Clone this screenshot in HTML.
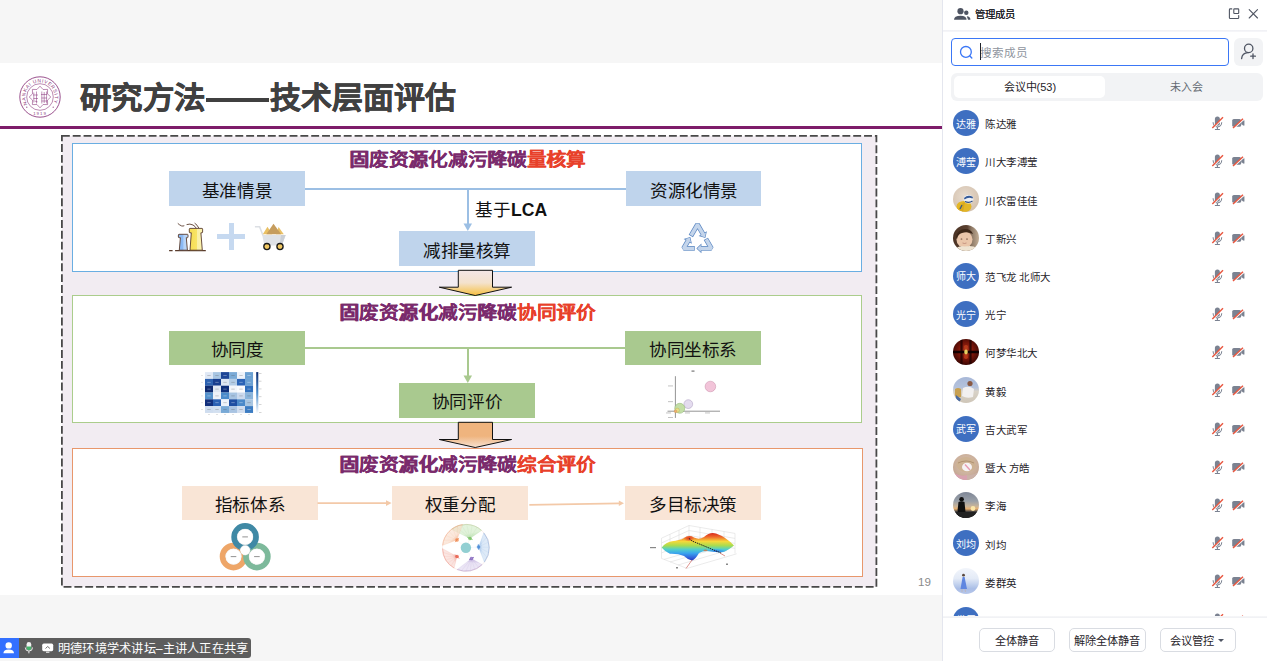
<!DOCTYPE html>
<html lang="zh-CN">
<head>
<meta charset="utf-8">
<style>
*{margin:0;padding:0;box-sizing:border-box}
html,body{width:1267px;height:661px;overflow:hidden;background:#f6f6f6;font-family:"Liberation Sans",sans-serif;position:relative}
.a{position:absolute}
.t{position:absolute;white-space:nowrap;line-height:1}
#slide{left:0;top:63px;width:942px;height:532px;background:#fff}
.title{top:82.7px;font-size:32px;font-weight:bold;color:#404040;-webkit-text-stroke:0.6px #404040;transform:scale(0.98,0.93);transform-origin:0 0}
.pline{left:0;top:126px;width:942px;height:3px;background:#7e1c6a}
.dash{left:61px;top:135px;width:815.5px;height:452px;border:1.6px dashed #454545;background:#f3edf3}
.sec{left:72px;width:790.2px;background:#fff}
.s1{top:143.2px;height:128.6px;border:1.5px solid #6aaee2}
.s2{top:295.2px;height:128px;border:1.4px solid #abcd8c}
.s3{top:448.1px;height:128.5px;width:790.8px;border:1.4px solid #e8976c}
.hd{font-size:20px;font-weight:bold;color:#7a2a6c;left:0;width:942px;transform:scale(0.986,0.9);transform-origin:50% 0;text-shadow:0.4px 0 0 #7a2a6c}
.hd b{text-shadow:0.4px 0 0 #e8402a}

.hd b{color:#e8402a}
.lb{position:absolute;font-size:18px;color:#111;display:flex;align-items:center;justify-content:center;white-space:nowrap}
.lb span{display:inline-block;transform:translateY(0.7px) scale(0.978,0.92)}
.bl{background:#bfd4ec}
.gr{background:#a9c98f}
.or{background:#f9e5d6}
.ln{position:absolute}
/* panel */
#panel{left:942px;top:0;width:325px;height:661px;background:#fff;border-left:1.5px solid #e4e6ee}
.ptxt{color:#1f2329}
.row{position:absolute;left:953px;height:26px}
.av{position:absolute;width:26px;height:26px;border-radius:50%;background:#3e6fc1;color:#fff;font-size:10px;display:flex;align-items:center;justify-content:center;overflow:hidden}
.nm{position:absolute;font-size:11px;color:#1f2329;white-space:nowrap;line-height:1;transform:scale(0.955,0.93);transform-origin:0 50%}
.btn{position:absolute;top:627.5px;height:24px;border:1px solid #d9dce2;border-radius:5px;background:#fff;font-size:11.2px;color:#1f2329;display:flex;align-items:center;justify-content:center}
</style>
</head>
<body>
<div id="slide" class="a"></div>


<div class="t title" style="left:79.5px">研究方法</div>
<div class="a" style="left:206px;top:97.9px;width:63px;height:3.9px;background:#404040"></div>
<div class="t title" style="left:269.8px;transform:scale(0.966,0.93)">技术层面评估</div>
<div class="a pline"></div>

<svg class="a" style="left:0;top:0" width="942" height="600"><rect x="61.9" y="135.9" width="814.5" height="451" fill="#f2ecf2" stroke="#484848" stroke-width="1.8" stroke-dasharray="7.9 2.94"/></svg>
<div class="a sec s1"></div>
<div class="a sec s2"></div>
<div class="a sec s3"></div>

<div class="t hd" style="top:151px;text-align:center;left:0;width:935px">固废资源化减污降碳<b>量核算</b></div>
<div class="t hd" style="top:303.8px;text-align:center;left:0;width:935px">固废资源化减污降碳<b>协同评价</b></div>
<div class="t hd" style="top:456.4px;text-align:center;left:0;width:935px">固废资源化减污降碳<b>综合评价</b></div>

<!-- section 1 -->
<div class="lb bl" style="left:169.3px;top:171.4px;width:136px;height:34.5px"><span>基准情景</span></div>
<div class="lb bl" style="left:626px;top:171.4px;width:135px;height:34.5px"><span>资源化情景</span></div>
<div class="lb bl" style="left:399px;top:231.1px;width:136px;height:35px"><span>减排量核算</span></div>
<div class="ln" style="left:305px;top:188.3px;width:321px;height:2px;background:#9cbfe4"></div>
<div class="ln" style="left:466.8px;top:189px;width:2px;height:36px;background:#9cbfe4"></div>
<svg class="a" style="left:463px;top:223px" width="10" height="9"><path d="M0.5 0.5 L9 0.5 L4.8 8 Z" fill="#9cbfe4"/></svg>
<div class="t" style="left:475px;top:202.1px;font-size:17.6px;color:#111">基于<b style="font-size:17.6px">LCA</b></div>

<!-- section 2 -->
<div class="lb gr" style="left:169.3px;top:330.7px;width:136px;height:34.8px"><span>协同度</span></div>
<div class="lb gr" style="left:624.5px;top:330.7px;width:136px;height:34.8px"><span>协同坐标系</span></div>
<div class="lb gr" style="left:399px;top:383px;width:136px;height:34.8px"><span>协同评价</span></div>
<div class="ln" style="left:305px;top:347px;width:320px;height:2px;background:#a9c98f"></div>
<div class="ln" style="left:466.8px;top:348px;width:2px;height:28px;background:#a9c98f"></div>
<svg class="a" style="left:463px;top:375px" width="10" height="9"><path d="M0.5 0.5 L9 0.5 L4.8 8 Z" fill="#a9c98f"/></svg>

<!-- section 3 -->
<div class="lb or" style="left:182px;top:485.7px;width:136px;height:34.5px"><span>指标体系</span></div>
<div class="lb or" style="left:392.2px;top:485.7px;width:136px;height:34.5px"><span>权重分配</span></div>
<div class="lb or" style="left:624.5px;top:485.7px;width:136px;height:34.5px"><span>多目标决策</span></div>

<svg class="a" style="left:300px;top:490px" width="340" height="25" viewBox="300 490 340 25">
 <path d="M317.5 503.1 H387" stroke="#f3c9a8" stroke-width="1.8"/>
 <path d="M386 500.2 L391.6 503.1 L386 506 Z" fill="#f3c9a8"/>
 <path d="M529.3 504.8 L619.5 503.3" stroke="#f3c9a8" stroke-width="1.8"/>
 <path d="M618.8 500.6 L624 503.2 L618.8 505.9 Z" fill="#f3c9a8"/>
</svg>
<!-- factory -->
<svg class="a" style="left:166px;top:220px" width="44" height="34" viewBox="166 220 44 34">
 <defs>
  <linearGradient id="gbl" x1="0" x2="1"><stop offset="0" stop-color="#86b6f2"/><stop offset="0.5" stop-color="#8cbaf4"/><stop offset="0.55" stop-color="#b6d4f8"/><stop offset="1" stop-color="#bcd8f8"/></linearGradient>
  <linearGradient id="gye" x1="0" x2="1"><stop offset="0" stop-color="#f6dc50"/><stop offset="0.55" stop-color="#f8e466"/><stop offset="0.6" stop-color="#faf0a6"/><stop offset="1" stop-color="#fbf3b0"/></linearGradient>
 </defs>
 <path d="M169.1 250.7 H172.6 M175.1 250.7 H205.8" stroke="#5a3c2c" stroke-width="1.2"/>
 <path d="M179 234.3 Q178.4 234.3 178.4 235 V237 Q178.4 237.7 179.2 237.7 H180.4 L179.3 250.2 H187.4 L186.3 237.7 H187.4 Q188 237.7 188 237 V235 Q188 234.3 187.4 234.3 Z" fill="url(#gbl)" stroke="#5a3c2c" stroke-width="0.9"/>
 <path d="M190 228.4 Q189.3 228.4 189.3 229.1 V232 Q189.3 232.8 190 232.8 H191.3 L190 250.2 H202.3 L200.9 232.8 H202 Q202.6 232.8 202.6 232 V229.1 Q202.6 228.4 202 228.4 Z" fill="url(#gye)" stroke="#5a3c2c" stroke-width="0.9"/>
 <path d="M177.8 223.4 Q179.5 225 181.5 225.9 Q183 226.3 184.3 225.7" fill="none" stroke="#5a3c2c" stroke-width="0.9"/>
 <path d="M186.6 224.6 Q190 223.4 193 225 Q195.3 226.3 196.2 228.2" fill="none" stroke="#5a3c2c" stroke-width="0.9"/>
 <path d="M194.6 223.1 Q197.3 224.8 198.8 228.1" fill="none" stroke="#5a3c2c" stroke-width="0.9"/>
</svg>
<!-- plus -->
<div class="a" style="left:217px;top:234.2px;width:28px;height:5px;background:#c6d9f0"></div>
<div class="a" style="left:228.5px;top:223px;width:5px;height:27px;background:#c6d9f0"></div>
<!-- cart -->
<svg class="a" style="left:252px;top:220px" width="38" height="34" viewBox="252 220 38 34">
 <path d="M254.9 226.8 H259.6 L263 235.5" fill="none" stroke="#dcdfe4" stroke-width="1.6"/>
 <path d="M262.8 234.2 L267.5 226.8 L272.2 234.2 Z" fill="#e9c064"/>
 <path d="M276 234.2 L278.6 227 L283.8 234.2 Z" fill="#e9c064"/>
 <path d="M266.3 234.2 L273.5 223.8 L281.2 234.2 Z" fill="#c69d5e"/>
 <path d="M262.2 235 H285.7 L281.8 245.5 H264.4 Z" fill="#dfe2e7"/>
 <path d="M281 235 H285.7 L281.8 245.5 H279.5 Z" fill="#cbcfd5"/>
 <circle cx="266.9" cy="246.6" r="3.1" fill="#f1c862" stroke="#1a1a1a" stroke-width="1.3"/>
 <circle cx="280" cy="246.6" r="3.1" fill="#f1c862" stroke="#1a1a1a" stroke-width="1.3"/>
</svg>
<!-- recycle -->
<svg class="a" style="left:677px;top:217px" width="42" height="40" viewBox="677 217 42 40">
<path d="M690.83 236.02 L697.50 224.60 L703.21 234.38" fill="none" stroke="#5b87c2" stroke-width="4.9" stroke-linejoin="bevel"/>
<polygon points="704.88,237.23 700.12,235.83 706.00,232.41" fill="#5b87c2" stroke="#5b87c2" stroke-width="1.2" stroke-linejoin="miter"/>
<path d="M705.84 238.88 L711.40 248.40 L700.54 248.40" fill="none" stroke="#5b87c2" stroke-width="4.9" stroke-linejoin="bevel"/>
<polygon points="697.24,248.40 700.84,245.00 700.84,251.80" fill="#5b87c2" stroke="#5b87c2" stroke-width="1.2" stroke-linejoin="miter"/>
<path d="M694.72 248.40 L683.60 248.40 L688.20 240.52" fill="none" stroke="#5b87c2" stroke-width="4.9" stroke-linejoin="bevel"/>
<polygon points="689.86,237.68 690.98,242.50 685.11,239.07" fill="#5b87c2" stroke="#5b87c2" stroke-width="1.2" stroke-linejoin="miter"/>
<path d="M691.16 235.46 L697.50 224.60 L703.36 234.64" fill="none" stroke="#c4d5eb" stroke-width="3.5" stroke-linejoin="bevel"/>
<polygon points="704.88,237.23 700.12,235.83 706.00,232.41" fill="#c4d5eb"/>
<path d="M706.17 239.44 L711.40 248.40 L700.24 248.40" fill="none" stroke="#c4d5eb" stroke-width="3.5" stroke-linejoin="bevel"/>
<polygon points="697.24,248.40 700.84,245.00 700.84,251.80" fill="#c4d5eb"/>
<path d="M694.07 248.40 L683.60 248.40 L688.35 240.27" fill="none" stroke="#c4d5eb" stroke-width="3.5" stroke-linejoin="bevel"/>
<polygon points="689.86,237.68 690.98,242.50 685.11,239.07" fill="#c4d5eb"/>
</svg>
<svg class="a" style="left:198px;top:368px" width="70" height="50" viewBox="198 368 70 50">
<defs><linearGradient id="gcb" x1="0" y1="0" x2="0" y2="1"><stop offset="0" stop-color="#0b2a6e"/><stop offset="0.5" stop-color="#4a8cca"/><stop offset="1" stop-color="#f6f9fd"/></linearGradient></defs>
<rect x="205.0" y="372.10" width="8.05" height="6.85" fill="#dfe8f5"/>
<rect x="207.3" y="375.10" width="3.4" height="0.8" fill="#555" opacity="0.35"/>
<rect x="213.0" y="372.10" width="8.05" height="6.85" fill="#a8c6e3"/>
<rect x="215.3" y="375.10" width="3.4" height="0.8" fill="#555" opacity="0.35"/>
<rect x="221.0" y="372.10" width="8.05" height="6.85" fill="#1c4596"/>
<rect x="223.3" y="375.10" width="3.4" height="0.8" fill="#fff" opacity="0.4"/>
<rect x="229.0" y="372.10" width="8.05" height="6.85" fill="#7aaad6"/>
<rect x="231.3" y="375.10" width="3.4" height="0.8" fill="#555" opacity="0.35"/>
<rect x="237.0" y="372.10" width="8.05" height="6.85" fill="#eef3fa"/>
<rect x="239.3" y="375.10" width="3.4" height="0.8" fill="#555" opacity="0.35"/>
<rect x="245.0" y="372.10" width="8.05" height="6.85" fill="#6aa0d2"/>
<rect x="247.3" y="375.10" width="3.4" height="0.8" fill="#fff" opacity="0.4"/>
<rect x="205.0" y="378.90" width="8.05" height="6.85" fill="#2d62b0"/>
<rect x="207.3" y="381.90" width="3.4" height="0.8" fill="#fff" opacity="0.4"/>
<rect x="213.0" y="378.90" width="8.05" height="6.85" fill="#163d8e"/>
<rect x="215.3" y="381.90" width="3.4" height="0.8" fill="#fff" opacity="0.4"/>
<rect x="221.0" y="378.90" width="8.05" height="6.85" fill="#dde7f3"/>
<rect x="223.3" y="381.90" width="3.4" height="0.8" fill="#555" opacity="0.35"/>
<rect x="229.0" y="378.90" width="8.05" height="6.85" fill="#b4cde6"/>
<rect x="231.3" y="381.90" width="3.4" height="0.8" fill="#555" opacity="0.35"/>
<rect x="237.0" y="378.90" width="8.05" height="6.85" fill="#2a63b6"/>
<rect x="239.3" y="381.90" width="3.4" height="0.8" fill="#fff" opacity="0.4"/>
<rect x="245.0" y="378.90" width="8.05" height="6.85" fill="#6da2d4"/>
<rect x="247.3" y="381.90" width="3.4" height="0.8" fill="#fff" opacity="0.4"/>
<rect x="205.0" y="385.70" width="8.05" height="6.85" fill="#0e2a70"/>
<rect x="207.3" y="388.70" width="3.4" height="0.8" fill="#fff" opacity="0.4"/>
<rect x="213.0" y="385.70" width="8.05" height="6.85" fill="#dfe7f2"/>
<rect x="215.3" y="388.70" width="3.4" height="0.8" fill="#555" opacity="0.35"/>
<rect x="221.0" y="385.70" width="8.05" height="6.85" fill="#0d2f7a"/>
<rect x="223.3" y="388.70" width="3.4" height="0.8" fill="#fff" opacity="0.4"/>
<rect x="229.0" y="385.70" width="8.05" height="6.85" fill="#f3f6fb"/>
<rect x="231.3" y="388.70" width="3.4" height="0.8" fill="#555" opacity="0.35"/>
<rect x="237.0" y="385.70" width="8.05" height="6.85" fill="#fbfcfe"/>
<rect x="239.3" y="388.70" width="3.4" height="0.8" fill="#555" opacity="0.35"/>
<rect x="245.0" y="385.70" width="8.05" height="6.85" fill="#3070bd"/>
<rect x="247.3" y="388.70" width="3.4" height="0.8" fill="#fff" opacity="0.4"/>
<rect x="205.0" y="392.50" width="8.05" height="6.85" fill="#5592cc"/>
<rect x="207.3" y="395.50" width="3.4" height="0.8" fill="#fff" opacity="0.4"/>
<rect x="213.0" y="392.50" width="8.05" height="6.85" fill="#eef2f9"/>
<rect x="215.3" y="395.50" width="3.4" height="0.8" fill="#555" opacity="0.35"/>
<rect x="221.0" y="392.50" width="8.05" height="6.85" fill="#4a8bca"/>
<rect x="223.3" y="395.50" width="3.4" height="0.8" fill="#fff" opacity="0.4"/>
<rect x="229.0" y="392.50" width="8.05" height="6.85" fill="#a6c3e2"/>
<rect x="231.3" y="395.50" width="3.4" height="0.8" fill="#555" opacity="0.35"/>
<rect x="237.0" y="392.50" width="8.05" height="6.85" fill="#cad9ee"/>
<rect x="239.3" y="395.50" width="3.4" height="0.8" fill="#555" opacity="0.35"/>
<rect x="245.0" y="392.50" width="8.05" height="6.85" fill="#8ab5dc"/>
<rect x="247.3" y="395.50" width="3.4" height="0.8" fill="#555" opacity="0.35"/>
<rect x="205.0" y="399.30" width="8.05" height="6.85" fill="#112f7c"/>
<rect x="207.3" y="402.30" width="3.4" height="0.8" fill="#fff" opacity="0.4"/>
<rect x="213.0" y="399.30" width="8.05" height="6.85" fill="#2a60b3"/>
<rect x="215.3" y="402.30" width="3.4" height="0.8" fill="#fff" opacity="0.4"/>
<rect x="221.0" y="399.30" width="8.05" height="6.85" fill="#eef3fa"/>
<rect x="223.3" y="402.30" width="3.4" height="0.8" fill="#555" opacity="0.35"/>
<rect x="229.0" y="399.30" width="8.05" height="6.85" fill="#1d4ea2"/>
<rect x="231.3" y="402.30" width="3.4" height="0.8" fill="#fff" opacity="0.4"/>
<rect x="237.0" y="399.30" width="8.05" height="6.85" fill="#4a89c9"/>
<rect x="239.3" y="402.30" width="3.4" height="0.8" fill="#fff" opacity="0.4"/>
<rect x="245.0" y="399.30" width="8.05" height="6.85" fill="#a8c6e2"/>
<rect x="247.3" y="402.30" width="3.4" height="0.8" fill="#555" opacity="0.35"/>
<rect x="205.0" y="406.10" width="8.05" height="6.85" fill="#cfddef"/>
<rect x="207.3" y="409.10" width="3.4" height="0.8" fill="#555" opacity="0.35"/>
<rect x="213.0" y="406.10" width="8.05" height="6.85" fill="#d3e0f0"/>
<rect x="215.3" y="409.10" width="3.4" height="0.8" fill="#555" opacity="0.35"/>
<rect x="221.0" y="406.10" width="8.05" height="6.85" fill="#78a9d6"/>
<rect x="223.3" y="409.10" width="3.4" height="0.8" fill="#555" opacity="0.35"/>
<rect x="229.0" y="406.10" width="8.05" height="6.85" fill="#a9c4e2"/>
<rect x="231.3" y="409.10" width="3.4" height="0.8" fill="#555" opacity="0.35"/>
<rect x="237.0" y="406.10" width="8.05" height="6.85" fill="#d0ddef"/>
<rect x="239.3" y="409.10" width="3.4" height="0.8" fill="#555" opacity="0.35"/>
<rect x="245.0" y="406.10" width="8.05" height="6.85" fill="#3c7cc2"/>
<rect x="247.3" y="409.10" width="3.4" height="0.8" fill="#fff" opacity="0.4"/>
<rect x="256.2" y="372.1" width="2.1" height="40.8" fill="url(#gcb)"/>
<rect x="259" y="373.0" width="2.5" height="0.7" fill="#999" opacity="0.6"/>
<rect x="201.5" y="375.1" width="1" height="0.8" fill="#999" opacity="0.6"/>
<rect x="208.5" y="414" width="1" height="1" fill="#999" opacity="0.6"/>
<rect x="259" y="380.8" width="2.5" height="0.7" fill="#999" opacity="0.6"/>
<rect x="201.5" y="381.9" width="1" height="0.8" fill="#999" opacity="0.6"/>
<rect x="216.5" y="414" width="1" height="1" fill="#999" opacity="0.6"/>
<rect x="259" y="388.6" width="2.5" height="0.7" fill="#999" opacity="0.6"/>
<rect x="201.5" y="388.7" width="1" height="0.8" fill="#999" opacity="0.6"/>
<rect x="224.5" y="414" width="1" height="1" fill="#999" opacity="0.6"/>
<rect x="259" y="396.4" width="2.5" height="0.7" fill="#999" opacity="0.6"/>
<rect x="201.5" y="395.5" width="1" height="0.8" fill="#999" opacity="0.6"/>
<rect x="232.5" y="414" width="1" height="1" fill="#999" opacity="0.6"/>
<rect x="259" y="404.2" width="2.5" height="0.7" fill="#999" opacity="0.6"/>
<rect x="201.5" y="402.3" width="1" height="0.8" fill="#999" opacity="0.6"/>
<rect x="240.5" y="414" width="1" height="1" fill="#999" opacity="0.6"/>
<rect x="259" y="412.0" width="2.5" height="0.7" fill="#999" opacity="0.6"/>
<rect x="201.5" y="409.1" width="1" height="0.8" fill="#999" opacity="0.6"/>
<rect x="248.5" y="414" width="1" height="1" fill="#999" opacity="0.6"/>
</svg>
<!-- bubble chart -->
<svg class="a" style="left:660px;top:368px" width="66" height="52" viewBox="660 368 66 52">
 <path d="M675.4 376.2 V417.9" stroke="#666" stroke-width="0.7"/>
 <path d="M667.5 411.2 H720" stroke="#666" stroke-width="0.7"/>
 <circle cx="710.4" cy="386.5" r="5.3" fill="#f2c4d9" stroke="#c78ba6" stroke-width="0.5"/>
 <circle cx="688.3" cy="404.1" r="4.4" fill="#e4dcef" stroke="#a899bd" stroke-width="0.5"/>
 <circle cx="679.8" cy="408.3" r="5" fill="#c3dea6" stroke="#8ab070" stroke-width="0.5"/>
 <circle cx="677.2" cy="410.3" r="2.2" fill="#e6e08a" stroke="#b0a850" stroke-width="0.4"/>
 <circle cx="675.6" cy="411.3" r="1.4" fill="#f0b070" stroke="#c08040" stroke-width="0.3"/>
 <rect x="691.5" y="370.5" width="3" height="1.2" fill="#777"/>
 <g fill="#aaa"><rect x="668" y="385.6" width="5" height="0.7"/><rect x="668" y="401.4" width="5" height="0.7"/><rect x="668" y="417.2" width="5" height="0.7"/><rect x="666" y="412.6" width="5" height="0.7"/><rect x="685" y="412.6" width="5" height="0.7"/><rect x="705" y="412.6" width="5" height="0.7"/></g>
</svg>
<!-- three rings -->
<svg class="a" style="left:216px;top:520px" width="58" height="55" viewBox="216 520 58 55">
 <circle cx="233.5" cy="556.6" r="10.85" fill="none" stroke="#eea668" stroke-width="5.9"/>
 <circle cx="256.9" cy="556.6" r="10.85" fill="none" stroke="#7db99b" stroke-width="5.9"/>
 <circle cx="245.1" cy="536.9" r="10.85" fill="none" stroke="#3f89a5" stroke-width="5.9"/>
 <path d="M239.6 548.5 A13.6 13.6 0 0 0 250.6 548.5 L248.5 552.8 A8 8 0 0 0 243.5 555 Z" fill="#fff"/>
 <circle cx="245.17" cy="550.3" r="5" fill="#fff" stroke="#c8c8c8" stroke-width="0.3"/>
 <circle cx="245.1" cy="536.9" r="7.9" fill="#fff" stroke="#ddd" stroke-width="0.3"/>
 <circle cx="233.5" cy="556.6" r="7.9" fill="#fff" stroke="#ddd" stroke-width="0.3"/>
 <circle cx="256.9" cy="556.6" r="7.9" fill="#fff" stroke="#ddd" stroke-width="0.3"/>
 <g fill="#666" opacity="0.7"><rect x="242.3" y="536.4" width="5.6" height="1"/><rect x="230.7" y="556.1" width="5.6" height="1"/><rect x="254.1" y="556.1" width="5.6" height="1"/></g>
</svg>
<!-- radial weight diagram -->
<svg class="a" style="left:439px;top:521px" width="54" height="54" viewBox="439 521 54 54">
<defs><linearGradient id="fg0" gradientUnits="userSpaceOnUse" x1="470.0" y1="538.5" x2="466.7" y2="524.4"><stop offset="0" stop-color="#7cc46a" stop-opacity="0.4"/><stop offset="0.35" stop-color="#cfeac4" stop-opacity="0.65"/><stop offset="1" stop-color="#cfeac4" stop-opacity="0.55"/></linearGradient></defs>
<path d="M470.0 538.5 L451.5 529.4 A23.4 23.4 0 0 1 481.6 530.4 Z" fill="url(#fg0)"/>
<path d="M470.0 538.5 L451.5 529.4" stroke="#7cc46a" stroke-width="0.25" opacity="0.3"/>
<path d="M470.0 538.5 L456.1 526.5" stroke="#7cc46a" stroke-width="0.25" opacity="0.3"/>
<path d="M470.0 538.5 L461.3 524.9" stroke="#7cc46a" stroke-width="0.25" opacity="0.3"/>
<path d="M470.0 538.5 L466.7 524.4" stroke="#7cc46a" stroke-width="0.25" opacity="0.3"/>
<path d="M470.0 538.5 L472.1 525.2" stroke="#7cc46a" stroke-width="0.25" opacity="0.3"/>
<path d="M470.0 538.5 L477.1 527.3" stroke="#7cc46a" stroke-width="0.25" opacity="0.3"/>
<path d="M470.0 538.5 L481.6 530.4" stroke="#7cc46a" stroke-width="0.25" opacity="0.3"/>
<path d="M451.5 529.4 A23.4 23.4 0 0 1 481.6 530.4" fill="none" stroke="#7cc46a" stroke-width="0.7" opacity="0.6"/>
<circle cx="470.0" cy="538.5" r="1.8" fill="#7cc46a" opacity="0.9"/>
<path d="M472.6 539.6 L467.4 537.4" stroke="#7cc46a" stroke-width="1" opacity="0.8"/>
<path d="M468.1 542.8 L470.0 538.5" stroke="#cfeac4" stroke-width="0.5" stroke-dasharray="0.6 0.6"/>
<defs><linearGradient id="fg1" gradientUnits="userSpaceOnUse" x1="478.5" y1="547.0" x2="489.3" y2="547.4"><stop offset="0" stop-color="#4f8fd8" stop-opacity="0.4"/><stop offset="0.35" stop-color="#c8dcf3" stop-opacity="0.65"/><stop offset="1" stop-color="#c8dcf3" stop-opacity="0.55"/></linearGradient></defs>
<path d="M478.5 547.0 L483.8 532.8 A23.4 23.4 0 0 1 484.3 562.2 Z" fill="url(#fg1)"/>
<path d="M478.5 547.0 L483.8 532.8" stroke="#4f8fd8" stroke-width="0.25" opacity="0.3"/>
<path d="M478.5 547.0 L486.7 537.2" stroke="#4f8fd8" stroke-width="0.25" opacity="0.3"/>
<path d="M478.5 547.0 L488.6 542.1" stroke="#4f8fd8" stroke-width="0.25" opacity="0.3"/>
<path d="M478.5 547.0 L489.3 547.4" stroke="#4f8fd8" stroke-width="0.25" opacity="0.3"/>
<path d="M478.5 547.0 L488.8 552.7" stroke="#4f8fd8" stroke-width="0.25" opacity="0.3"/>
<path d="M478.5 547.0 L487.1 557.7" stroke="#4f8fd8" stroke-width="0.25" opacity="0.3"/>
<path d="M478.5 547.0 L484.3 562.2" stroke="#4f8fd8" stroke-width="0.25" opacity="0.3"/>
<path d="M483.8 532.8 A23.4 23.4 0 0 1 484.3 562.2" fill="none" stroke="#4f8fd8" stroke-width="0.7" opacity="0.6"/>
<circle cx="478.5" cy="547.0" r="1.8" fill="#4f8fd8" opacity="0.9"/>
<path d="M478.7 549.8 L478.3 544.2" stroke="#4f8fd8" stroke-width="1" opacity="0.8"/>
<path d="M471.4 547.5 L478.5 547.0" stroke="#c8dcf3" stroke-width="0.5" stroke-dasharray="0.6 0.6"/>
<defs><linearGradient id="fg2" gradientUnits="userSpaceOnUse" x1="471.5" y1="558.5" x2="470.4" y2="570.8"><stop offset="0" stop-color="#8a6cc0" stop-opacity="0.4"/><stop offset="0.35" stop-color="#ddd3ee" stop-opacity="0.65"/><stop offset="1" stop-color="#ddd3ee" stop-opacity="0.55"/></linearGradient></defs>
<path d="M471.5 558.5 L482.2 564.6 A23.4 23.4 0 0 1 457.1 569.5 Z" fill="url(#fg2)"/>
<path d="M471.5 558.5 L482.2 564.6" stroke="#8a6cc0" stroke-width="0.25" opacity="0.3"/>
<path d="M471.5 558.5 L478.6 567.4" stroke="#8a6cc0" stroke-width="0.25" opacity="0.3"/>
<path d="M471.5 558.5 L474.7 569.5" stroke="#8a6cc0" stroke-width="0.25" opacity="0.3"/>
<path d="M471.5 558.5 L470.4 570.8" stroke="#8a6cc0" stroke-width="0.25" opacity="0.3"/>
<path d="M471.5 558.5 L465.9 571.2" stroke="#8a6cc0" stroke-width="0.25" opacity="0.3"/>
<path d="M471.5 558.5 L461.4 570.8" stroke="#8a6cc0" stroke-width="0.25" opacity="0.3"/>
<path d="M471.5 558.5 L457.1 569.5" stroke="#8a6cc0" stroke-width="0.25" opacity="0.3"/>
<path d="M482.2 564.6 A23.4 23.4 0 0 1 457.1 569.5" fill="none" stroke="#8a6cc0" stroke-width="0.7" opacity="0.6"/>
<circle cx="471.5" cy="558.5" r="1.8" fill="#8a6cc0" opacity="0.9"/>
<path d="M469.0 559.8 L474.0 557.2" stroke="#8a6cc0" stroke-width="1" opacity="0.8"/>
<path d="M468.5 552.7 L471.5 558.5" stroke="#ddd3ee" stroke-width="0.5" stroke-dasharray="0.6 0.6"/>
<defs><linearGradient id="fg3" gradientUnits="userSpaceOnUse" x1="457.0" y1="556.5" x2="445.8" y2="559.9"><stop offset="0" stop-color="#e8604e" stop-opacity="0.4"/><stop offset="0.35" stop-color="#f8d2cb" stop-opacity="0.65"/><stop offset="1" stop-color="#f8d2cb" stop-opacity="0.55"/></linearGradient></defs>
<path d="M457.0 556.5 L454.2 568.1 A23.4 23.4 0 0 1 442.5 548.6 Z" fill="url(#fg3)"/>
<path d="M457.0 556.5 L454.2 568.1" stroke="#e8604e" stroke-width="0.25" opacity="0.3"/>
<path d="M457.0 556.5 L451.0 565.8" stroke="#e8604e" stroke-width="0.25" opacity="0.3"/>
<path d="M457.0 556.5 L448.2 563.0" stroke="#e8604e" stroke-width="0.25" opacity="0.3"/>
<path d="M457.0 556.5 L445.8 559.9" stroke="#e8604e" stroke-width="0.25" opacity="0.3"/>
<path d="M457.0 556.5 L444.1 556.3" stroke="#e8604e" stroke-width="0.25" opacity="0.3"/>
<path d="M457.0 556.5 L443.0 552.5" stroke="#e8604e" stroke-width="0.25" opacity="0.3"/>
<path d="M457.0 556.5 L442.5 548.6" stroke="#e8604e" stroke-width="0.25" opacity="0.3"/>
<path d="M454.2 568.1 A23.4 23.4 0 0 1 442.5 548.6" fill="none" stroke="#e8604e" stroke-width="0.7" opacity="0.6"/>
<circle cx="457.0" cy="556.5" r="1.8" fill="#e8604e" opacity="0.9"/>
<path d="M455.0 554.5 L459.0 558.5" stroke="#e8604e" stroke-width="1" opacity="0.8"/>
<path d="M462.0 551.6 L457.0 556.5" stroke="#f8d2cb" stroke-width="0.5" stroke-dasharray="0.6 0.6"/>
<defs><linearGradient id="fg4" gradientUnits="userSpaceOnUse" x1="457.0" y1="540.0" x2="449.1" y2="531.5"><stop offset="0" stop-color="#ef8a52" stop-opacity="0.4"/><stop offset="0.35" stop-color="#f9dac6" stop-opacity="0.65"/><stop offset="1" stop-color="#f9dac6" stop-opacity="0.55"/></linearGradient></defs>
<path d="M457.0 540.0 L442.6 545.4 A23.4 23.4 0 0 1 462.6 524.6 Z" fill="url(#fg4)"/>
<path d="M457.0 540.0 L442.6 545.4" stroke="#ef8a52" stroke-width="0.25" opacity="0.3"/>
<path d="M457.0 540.0 L443.7 540.3" stroke="#ef8a52" stroke-width="0.25" opacity="0.3"/>
<path d="M457.0 540.0 L445.9 535.6" stroke="#ef8a52" stroke-width="0.25" opacity="0.3"/>
<path d="M457.0 540.0 L449.1 531.5" stroke="#ef8a52" stroke-width="0.25" opacity="0.3"/>
<path d="M457.0 540.0 L453.0 528.2" stroke="#ef8a52" stroke-width="0.25" opacity="0.3"/>
<path d="M457.0 540.0 L457.6 525.9" stroke="#ef8a52" stroke-width="0.25" opacity="0.3"/>
<path d="M457.0 540.0 L462.6 524.6" stroke="#ef8a52" stroke-width="0.25" opacity="0.3"/>
<path d="M442.6 545.4 A23.4 23.4 0 0 1 462.6 524.6" fill="none" stroke="#ef8a52" stroke-width="0.7" opacity="0.6"/>
<circle cx="457.0" cy="540.0" r="1.8" fill="#ef8a52" opacity="0.9"/>
<path d="M458.8 537.9 L455.2 542.1" stroke="#ef8a52" stroke-width="1" opacity="0.8"/>
<path d="M461.8 544.2 L457.0 540.0" stroke="#f9dac6" stroke-width="0.5" stroke-dasharray="0.6 0.6"/>
<circle cx="465.9" cy="547.8" r="23.4" fill="none" stroke="#f0c8c0" stroke-width="0.4" opacity="0.7"/>
<circle cx="465.9" cy="547.8" r="5.2" fill="#92cfd2"/>
</svg>
<!-- 3D surface -->
<svg class="a" style="left:647px;top:522px" width="94" height="50" viewBox="647 522 94 50">
 <defs>
  <linearGradient id="gsf" x1="0" y1="533" x2="0" y2="561" gradientUnits="userSpaceOnUse">
   <stop offset="0" stop-color="#d8281c"/><stop offset="0.14" stop-color="#ee6a2c"/><stop offset="0.3" stop-color="#f6d83a"/><stop offset="0.45" stop-color="#a8dc50"/><stop offset="0.58" stop-color="#52d0c8"/><stop offset="0.72" stop-color="#3aa6ee"/><stop offset="0.88" stop-color="#3262dc"/><stop offset="1" stop-color="#2430b0"/>
  </linearGradient>
 </defs>
 <g fill="none" stroke="#d6d6d6" stroke-width="0.5">
  <path d="M661.5 538.2 L689 525.5 L735 533.4 V553.5 M689 525.5 V545 M661.5 538.2 V558.4 L687 568.4 L736.7 553.8"/>
  <path d="M670 534.3 V554 M679 530.2 V550 M700 527.4 V547 M712 529.5 V549 M724 531.5 V551"/>
  <path d="M661.5 543 L689 530.5 L735 538.4 M661.5 548 L689 535.5 L735 543.4 M661.5 553 L689 540.5 L735 548.4"/>
  <path d="M664 559.4 L713 545.5 M670 562 L720 547.5 M678 565 L727 550.5"/>
 </g>
 <path d="M661.7 547.4 Q666 542 672 541.3 Q680 540.5 684 538 Q689 534.5 694 537.5 Q699 540 704 537 Q710 531.5 716 533.5 Q726 537 734 545.6 Q728 550.5 724 551.8 Q718 553 712 551.5 Q704 550 699 553 Q695 560 692 560.5 Q688 560 684 556 Q678 553.5 670 553.8 Q664 550.5 661.7 547.4 Z" fill="url(#gsf)"/>
 <defs><clipPath id="csf"><path d="M661.7 547.4 Q666 542 672 541.3 Q680 540.5 684 538 Q689 534.5 694 537.5 Q699 540 704 537 Q710 531.5 716 533.5 Q726 537 734 545.6 Q728 550.5 724 551.8 Q718 553 712 551.5 Q704 550 699 553 Q695 560 692 560.5 Q688 560 684 556 Q678 553.5 670 553.8 Q664 550.5 661.7 547.4 Z"/></clipPath><radialGradient id="rpk" cx="0.5" cy="0.5" r="0.5"><stop offset="0" stop-color="#d82a1c" stop-opacity="0.95"/><stop offset="1" stop-color="#e8502a" stop-opacity="0"/></radialGradient>
<radialGradient id="bvl" cx="0.5" cy="0.5" r="0.5"><stop offset="0" stop-color="#2c66e0" stop-opacity="0.9"/><stop offset="0.6" stop-color="#3aa0ee" stop-opacity="0.6"/><stop offset="1" stop-color="#50c8e8" stop-opacity="0"/></radialGradient></defs>
 <g clip-path="url(#csf)"><ellipse cx="689" cy="538.5" rx="5.5" ry="3.2" fill="url(#rpk)"/>
 <ellipse cx="716" cy="551.5" rx="12" ry="3.2" fill="url(#bvl)"/>
 <ellipse cx="705.5" cy="550.6" rx="2" ry="1" fill="#e86a30" opacity="0.7"/></g>
<path d="M689 538.5 L692 541 L697 543 L703 545.5 L709 548 L715 550.5 L721 553" fill="none" stroke="#222" stroke-width="1" stroke-dasharray="1.5 0.8"/>
 <path d="M686 568.5 L692 560" stroke="#c84a40" stroke-width="0.6"/>
 <path d="M720 553 L725 556" stroke="#c84a40" stroke-width="0.6"/>
 <g fill="#888"><rect x="650" y="547" width="6" height="1.2"/><rect x="676" y="567" width="2" height="1.5"/><rect x="726" y="563.5" width="2" height="1.5"/></g>
</svg>

<!-- block arrows -->
<svg class="a" style="left:438px;top:269px" width="76" height="28" viewBox="438 269 76 28">
 <defs><linearGradient id="ga" x1="0" y1="0" x2="0" y2="1"><stop offset="0" stop-color="#f3e6e6"/><stop offset="0.5" stop-color="#f4e2cc"/><stop offset="1" stop-color="#f6c040"/></linearGradient></defs>
 <path d="M458.3 270.3 H492.5 V287.2 H511.6 L475.2 295.5 L439.3 287.2 H458.3 Z" fill="url(#ga)" stroke="#111" stroke-width="1"/>
</svg>
<svg class="a" style="left:438px;top:421px" width="76" height="28" viewBox="438 421 76 28">
 <defs><linearGradient id="gb" x1="0" y1="0" x2="0" y2="1"><stop offset="0" stop-color="#efb47e"/><stop offset="0.55" stop-color="#efb47e"/><stop offset="1" stop-color="#f7e2d2"/></linearGradient></defs>
 <path d="M458.3 422.3 H492.5 V439.5 H511.6 L475.2 447.5 L439.3 439.5 H458.3 Z" fill="url(#gb)" stroke="#111" stroke-width="1"/>
</svg>

<div class="t" style="left:918px;top:576px;font-size:11.6px;color:#8a8a8a">19</div>

<!-- bottom-left badge -->
<div class="a" style="left:0;top:638px;width:251px;height:20px;background:#5d5d5d;border-radius:0 3px 3px 0"></div>
<div class="a" style="left:0;top:638px;width:19px;height:20px;background:#3370ff"></div>
<div class="t" style="left:57.6px;top:643px;font-size:12px;color:#fff;transform:scaleX(1.019);transform-origin:0 0">明德环境学术讲坛–主讲人正在共享</div>

<!-- right panel -->
<div id="panel" class="a"></div>

<div class="t" style="left:975px;top:9.9px;font-size:10.4px;color:#1f2329;text-shadow:0.35px 0 0 #1f2329">管理成员</div>
<div class="a" style="left:943px;top:29.8px;width:324px;height:2.4px;background:linear-gradient(#eff0f4,#f7f7f9)"></div>
<div class="a" style="left:951.3px;top:38.4px;width:277.5px;height:27.2px;border:1.2px solid #3b77f6;border-radius:4px;background:#fff"></div>
<div class="t" style="left:980.2px;top:46.5px;font-size:11.6px;color:#8f959e">搜索成员</div>
<div class="a" style="left:1234.3px;top:38px;width:28.3px;height:27.6px;border-radius:6px;background:#f2f3f5"></div>
<div class="a" style="left:951px;top:73px;width:312px;height:27.7px;border-radius:6px;background:#f2f3f5"></div>
<div class="a" style="left:954px;top:75.5px;width:151px;height:22.2px;border-radius:5px;background:#fff"></div>
<div class="t" style="left:1003.5px;top:82px;font-size:11px;color:#1f2329">会议中(53)</div>
<div class="t" style="left:1169.5px;top:82px;font-size:11px;color:#646a73">未入会</div>

<svg width="0" height="0" style="position:absolute">
<defs>
<symbol id="micoff" viewBox="0 0 14 16">
 <rect x="3.9" y="1.6" width="5" height="9.2" rx="2.5" fill="#7b8291"/>
 <path d="M2.1 7.3 v0.3 a4.3 4.3 0 0 0 8.6 0 v-0.3" fill="none" stroke="#7b8291" stroke-width="1.05"/>
 <path d="M6.4 12 v2.2 M3.9 14.5 h5" stroke="#7b8291" stroke-width="1.1"/>
 <path d="M1.75 13.45 L12.45 2.75" stroke="#fff" stroke-width="1.5"/>
 <path d="M1.3 12.9 L12 2.2" stroke="#e8553e" stroke-width="1.4"/>
</symbol>
<symbol id="camoff" viewBox="0 0 15 16">
 <rect x="1.2" y="4" width="8.9" height="7.8" rx="1.6" fill="#7b8291"/>
 <path d="M10.5 6.6 L13.1 5.4 V10.4 L10.5 9.2 Z" fill="#7b8291" stroke="#7b8291" stroke-width="0.6" stroke-linejoin="round"/>
 <path d="M2.55 13.55 L12.55 4.35" stroke="#fff" stroke-width="1.5"/>
 <path d="M2 13 L12 3.8" stroke="#e8553e" stroke-width="1.4"/>
</symbol>
</defs>
</svg>
<div class="a" style="left:0;top:0;width:1267px;height:617px;overflow:hidden">
<div class="av" style="left:953px;top:110.00px">达雅</div>
<div class="nm" style="left:985.2px;top:119.20px">陈达雅</div>
<svg class="a" style="left:1211px;top:115.00px" width="14" height="16"><use href="#micoff"/></svg>
<svg class="a" style="left:1231px;top:115.00px" width="15" height="16"><use href="#camoff"/></svg>
<div class="av" style="left:953px;top:148.20px">溥莹</div>
<div class="nm" style="left:985.2px;top:157.40px">川大李溥莹</div>
<svg class="a" style="left:1211px;top:153.20px" width="14" height="16"><use href="#micoff"/></svg>
<svg class="a" style="left:1231px;top:153.20px" width="15" height="16"><use href="#camoff"/></svg>
<div class="av" style="left:953px;top:186.40px;background:radial-gradient(circle at 45% 40%,#e8dccf 0,#d8c7b5 60%,#c8b39e 100%)"><svg width="26" height="26" viewBox="0 0 26 26"><ellipse cx="11" cy="20.5" rx="7.5" ry="5.5" fill="#e3b626"/><path d="M5 24 Q8 17 12 16 L10 26 Z" fill="#d9a81e"/><ellipse cx="15.5" cy="13.2" rx="4.8" ry="4.2" fill="#eef0f4"/><path d="M11 12 Q15 8 20 11 L19.5 12.5 Q15.5 10.5 11.5 13.5 Z" fill="#355a98"/><path d="M12 15.5 Q16 17.5 19.5 15" stroke="#2c4a80" stroke-width="1.1" fill="none"/><path d="M9 19 L7 23" stroke="#3c5a80" stroke-width="1.2"/></svg></div>
<div class="nm" style="left:985.2px;top:195.60px">川农雷佳佳</div>
<svg class="a" style="left:1211px;top:191.40px" width="14" height="16"><use href="#micoff"/></svg>
<svg class="a" style="left:1231px;top:191.40px" width="15" height="16"><use href="#camoff"/></svg>
<div class="av" style="left:953px;top:224.60px;background:linear-gradient(90deg,#4a3224 0,#5a4030 55%,#8a7562 70%,#c2ae96 100%)"><svg width="26" height="26" viewBox="0 0 26 26"><ellipse cx="11.5" cy="14.5" rx="8" ry="8.2" fill="#eac6aa"/><path d="M3 12 Q5 4 12 4 Q18 4 20 9 Q14 6 9 8 Q5 9 4 14 Z" fill="#3e2819"/><path d="M1 26 Q4 20 12 21.5 Q19 20 24 23 L24 26 Z" fill="#efe4d2"/><ellipse cx="8.5" cy="14" rx="0.9" ry="0.6" fill="#5a3a2a"/><ellipse cx="14" cy="14" rx="0.9" ry="0.6" fill="#5a3a2a"/><path d="M9.5 18 Q11.5 19 13.5 18" stroke="#b88070" stroke-width="0.7" fill="none"/></svg></div>
<div class="nm" style="left:985.2px;top:233.80px">丁新兴</div>
<svg class="a" style="left:1211px;top:229.60px" width="14" height="16"><use href="#micoff"/></svg>
<svg class="a" style="left:1231px;top:229.60px" width="15" height="16"><use href="#camoff"/></svg>
<div class="av" style="left:953px;top:262.80px">师大</div>
<div class="nm" style="left:985.2px;top:272.00px">范飞龙 北师大</div>
<svg class="a" style="left:1211px;top:267.80px" width="14" height="16"><use href="#micoff"/></svg>
<svg class="a" style="left:1231px;top:267.80px" width="15" height="16"><use href="#camoff"/></svg>
<div class="av" style="left:953px;top:301.00px">光宁</div>
<div class="nm" style="left:985.2px;top:310.30px">光宁</div>
<svg class="a" style="left:1211px;top:306.00px" width="14" height="16"><use href="#micoff"/></svg>
<svg class="a" style="left:1231px;top:306.00px" width="15" height="16"><use href="#camoff"/></svg>
<div class="av" style="left:953px;top:339.20px;background:radial-gradient(circle at 50% 45%,#a8321c 0,#7a160a 40%,#3a0804 75%,#1a0202 100%)"><svg width="26" height="26" viewBox="0 0 26 26"><path d="M8.5 0 V26 M17.5 0 V26" stroke="#240302" stroke-width="2.2" opacity="0.85"/><path d="M0 13 H26" stroke="#120101" stroke-width="2.4"/><path d="M11 7 Q13 5 15 7 L14.5 11 L11.5 11 Z M11 19 Q13 21 15 19 L14.5 15 L11.5 15 Z" fill="#c0401c" opacity="0.8"/><ellipse cx="13" cy="13" rx="1.8" ry="2.4" fill="#e6d060"/></svg></div>
<div class="nm" style="left:985.2px;top:348.40px">何梦华北大</div>
<svg class="a" style="left:1211px;top:344.20px" width="14" height="16"><use href="#micoff"/></svg>
<svg class="a" style="left:1231px;top:344.20px" width="15" height="16"><use href="#camoff"/></svg>
<div class="av"  style="left:953px;top:377.40px;background:linear-gradient(#a8b8d8 0,#b4c2dc 40%,#d8d2c8 55%,#cfc6b8 100%)"><svg width="26" height="26" viewBox="0 0 26 26"><circle cx="17" cy="6.5" r="2.6" fill="#8a5a44"/><path d="M10 11 Q16 8 21 12 L20 20 Q14 22 9 19 Z" fill="#f2f0f0"/><path d="M2 12 Q5 10 8 12 L8 20 Q4 21 2 19 Z" fill="#c8a050"/><path d="M3 18 L8 22 L6 26 L2 25 Z" fill="#4a6aa0"/></svg></div>
<div class="nm" style="left:985.2px;top:386.60px">黄毅</div>
<svg class="a" style="left:1211px;top:382.40px" width="14" height="16"><use href="#micoff"/></svg>
<svg class="a" style="left:1231px;top:382.40px" width="15" height="16"><use href="#camoff"/></svg>
<div class="av" style="left:953px;top:415.60px">武军</div>
<div class="nm" style="left:985.2px;top:424.90px">吉大武军</div>
<svg class="a" style="left:1211px;top:420.60px" width="14" height="16"><use href="#micoff"/></svg>
<svg class="a" style="left:1231px;top:420.60px" width="15" height="16"><use href="#camoff"/></svg>
<div class="av" style="left:953px;top:453.80px;background:radial-gradient(circle at 50% 40%,#d9c4b4 0,#c9ad98 60%,#b08f80 100%)"><svg width="26" height="26" viewBox="0 0 26 26"><path d="M3 11 Q6 2 14 3 Q22 4 23 12 Q21 18 13 18 Q5 18 3 11 Z" fill="#cdb293"/><path d="M5 9 Q13 5 21 9" stroke="#a88a6a" stroke-width="0.8" fill="none"/><ellipse cx="14" cy="13" rx="5" ry="4.3" fill="#f6f2f4"/><path d="M12 10.5 L17 16" stroke="#e79ab0" stroke-width="1.4"/><path d="M1 19 Q8 23 14 21 L14 26 L1 26 Z" fill="#d8a2b0"/><path d="M14 21 Q20 22 25 18 L25 26 L14 26 Z" fill="#cbb2a8"/></svg></div>
<div class="nm" style="left:985.2px;top:463.00px">暨大 方皓</div>
<svg class="a" style="left:1211px;top:458.80px" width="14" height="16"><use href="#micoff"/></svg>
<svg class="a" style="left:1231px;top:458.80px" width="15" height="16"><use href="#camoff"/></svg>
<div class="av" style="left:953px;top:492.00px;background:linear-gradient(#7e8696 0,#9aa0a8 35%,#c8b49a 55%,#e8b070 65%,#4a4440 75%,#1e1c1c 100%)"><svg width="26" height="26" viewBox="0 0 26 26"><circle cx="20" cy="16.5" r="2.4" fill="#fbe6a8"/><circle cx="8.6" cy="7.2" r="2.3" fill="#101010"/><path d="M5.5 10 Q8.5 8.6 11.5 10 L12.5 20 L11 26 L5 26 L4.6 18 Z" fill="#101010"/><rect x="0" y="20" width="26" height="6" fill="#222"/></svg></div>
<div class="nm" style="left:985.2px;top:501.20px">李海</div>
<svg class="a" style="left:1211px;top:497.00px" width="14" height="16"><use href="#micoff"/></svg>
<svg class="a" style="left:1231px;top:497.00px" width="15" height="16"><use href="#camoff"/></svg>
<div class="av" style="left:953px;top:530.20px">刘均</div>
<div class="nm" style="left:985.2px;top:539.50px">刘均</div>
<svg class="a" style="left:1211px;top:535.20px" width="14" height="16"><use href="#micoff"/></svg>
<svg class="a" style="left:1231px;top:535.20px" width="15" height="16"><use href="#camoff"/></svg>
<div class="av" style="left:953px;top:568.40px;background:linear-gradient(#f2f5fb 0,#e4ebf7 40%,#c3d2ee 62%,#a9bde6 80%,#b6c6ea 100%)"><svg width="26" height="26" viewBox="0 0 26 26"><circle cx="10.5" cy="7.2" r="1.4" fill="#5a4a40"/><path d="M9.6 9 L11.6 9 L14 21 L7.5 21 Z" fill="#5f86e0"/><path d="M9 21 L9 24 M12 21 L12.5 24" stroke="#c8b0a0" stroke-width="0.6"/></svg></div>
<div class="nm" style="left:985.2px;top:577.70px">娄群英</div>
<svg class="a" style="left:1211px;top:573.40px" width="14" height="16"><use href="#micoff"/></svg>
<svg class="a" style="left:1231px;top:573.40px" width="15" height="16"><use href="#camoff"/></svg>
<div class="av" style="left:953px;top:606.60px">发展</div>
<div class="nm" style="left:985.2px;top:615.90px">绿色低碳循环发展</div>
<svg class="a" style="left:1211px;top:611.60px" width="14" height="16"><use href="#micoff"/></svg>
<svg class="a" style="left:1231px;top:611.60px" width="15" height="16"><use href="#camoff"/></svg>
</div>
<div class="a" style="left:943px;top:616px;width:324px;height:2.4px;background:linear-gradient(#f7f7f9,#eff0f4)"></div>
<div class="btn" style="left:979px;width:75.5px">全体静音</div>
<div class="btn" style="left:1069px;width:76.5px">解除全体静音</div>
<div class="btn" style="left:1159.5px;width:76px;justify-content:flex-start;padding-left:9.6px">会议管控<span style="display:inline-block;margin-left:4.4px;margin-top:1px;width:0;height:0;border-left:3.6px solid transparent;border-right:3.6px solid transparent;border-top:3.8px solid #4e5462"></span></div>
<!-- logo -->
<svg class="a" style="left:17px;top:74px" width="46" height="46" viewBox="17 74 46 46">
 <defs><path id="arc" d="M27.4 104.3 A14.6 14.6 0 1 1 52.6 104.3"/></defs>
 <g fill="none" stroke="#8e3d80">
  <circle cx="40" cy="97" r="20.2" stroke-width="0.9"/>
  <circle cx="40" cy="97" r="13.3" stroke-width="0.6"/>
  <path d="M40 86.2 L43.1 89.5 L47.6 89.4 L47.5 93.9 L50.8 97 L47.5 100.1 L47.6 104.6 L43.1 104.5 L40 107.8 L36.9 104.5 L32.4 104.6 L32.5 100.1 L29.2 97 L32.5 93.9 L32.4 89.4 L36.9 89.5 Z" stroke-width="0.6"/>
  <path d="M33.8 92.5 V102.5 M36.5 91.5 V103.5 M33 95 H38 M33.5 98.5 H38 M34.5 101 L37.5 101.8" stroke-width="0.55"/>
  <path d="M41.8 91.5 V103.5 M44.2 92 V103 M46.6 91.5 V103.5 M41 94.5 H47.2 M41.5 98 H47 M41.5 101 H47" stroke-width="0.55"/>
 </g>
 <text font-family="Liberation Sans" font-size="4.9" fill="#8e3d80"><textPath href="#arc" textLength="59" lengthAdjust="spacing">NANKAI UNIVERSITY</textPath></text>
 <text x="40" y="115.2" text-anchor="middle" font-family="Liberation Sans" font-size="4.3" fill="#8e3d80" letter-spacing="1">1919</text>
 <circle cx="26.8" cy="107.2" r="0.6" fill="#8e3d80"/><circle cx="53.2" cy="107.2" r="0.6" fill="#8e3d80"/>
</svg>
<!-- panel header icon -->
<svg class="a" style="left:953px;top:6px" width="19" height="16" viewBox="953 6 19 16">
 <circle cx="960.5" cy="11.2" r="3.1" fill="#4e5462"/>
 <path d="M954 19.8 Q954 15.8 960.5 15.8 Q966.5 15.8 966.6 19.8 Z" fill="#4e5462"/>
 <circle cx="966.3" cy="12.8" r="2.2" fill="#4e5462"/>
 <path d="M966.8 16.3 Q970.4 16.6 970.4 19.8 H968" fill="#4e5462"/>
</svg>
<!-- popout & close -->
<svg class="a" style="left:1226px;top:5px" width="36" height="18" viewBox="1226 5 36 18">
 <g fill="none" stroke="#505663" stroke-width="1.1" stroke-linecap="round" stroke-linejoin="round">
  <path d="M1231.8 8.9 H1230.2 Q1229.4 8.9 1229.4 9.7 V17.7 Q1229.4 18.5 1230.2 18.5 H1237.9 Q1238.7 18.5 1238.7 17.7 V15.6"/>
  <rect x="1233.8" y="8.9" width="4.9" height="4.6" rx="0.6"/>
  <path d="M1249.2 9.6 L1257.5 18 M1257.5 9.6 L1249.2 18"/>
 </g>
</svg>
<!-- search icon -->
<svg class="a" style="left:958px;top:44px" width="17" height="17" viewBox="958 44 17 17">
 <circle cx="965.9" cy="51.9" r="5.4" fill="none" stroke="#3b77f6" stroke-width="1.3"/>
 <path d="M969.9 56 L971.8 57.9" stroke="#3b77f6" stroke-width="1.4" stroke-linecap="round"/>
</svg>
<div class="a" style="left:979.6px;top:43.3px;width:1.2px;height:16.5px;background:#1f2329"></div>
<!-- add user -->
<svg class="a" style="left:1238px;top:42px" width="20" height="20" viewBox="1238 42 20 20">
 <g fill="none" stroke="#4e5462" stroke-width="1.3" stroke-linecap="round">
  <circle cx="1248.7" cy="48.4" r="4.2"/>
  <path d="M1241.6 58.6 Q1242.2 53 1248 52.7"/>
  <path d="M1250.7 56.2 H1255.4 M1253 53.8 V58.6"/>
 </g>
</svg>
<!-- badge icons -->
<svg class="a" style="left:2px;top:640px" width="15" height="16" viewBox="2 640 15 16">
 <circle cx="8.7" cy="645.4" r="3.2" fill="#fff"/>
 <path d="M3.4 653.2 Q3.4 649.4 8.7 649.4 Q14 649.4 14 653.2 Z" fill="#fff"/>
</svg>
<svg class="a" style="left:23px;top:640px" width="14" height="16" viewBox="23 640 14 16">
 <rect x="26.6" y="642" width="4.6" height="8" rx="2.3" fill="#f2f2f2"/>
 <path d="M26.6 646.5 H31.2 V648 A2.3 2.3 0 0 1 26.6 648 Z" fill="#45b36b"/>
 <path d="M25.3 647.5 A3.6 3.6 0 0 0 32.5 647.5 M28.9 651.3 V653.3" fill="none" stroke="#f2f2f2" stroke-width="1"/>
</svg>
<svg class="a" style="left:40px;top:641px" width="15" height="14" viewBox="40 641 15 14">
 <rect x="42.2" y="643.6" width="11" height="7.6" rx="1.6" fill="#fff"/>
 <path d="M45.5 648.5 L47.7 646.5 L49.9 648.5" fill="none" stroke="#5d5d5d" stroke-width="0.9"/>
 <path d="M46 652.2 H49.4" stroke="#fff" stroke-width="1"/>
</svg>
</body>
</html>
